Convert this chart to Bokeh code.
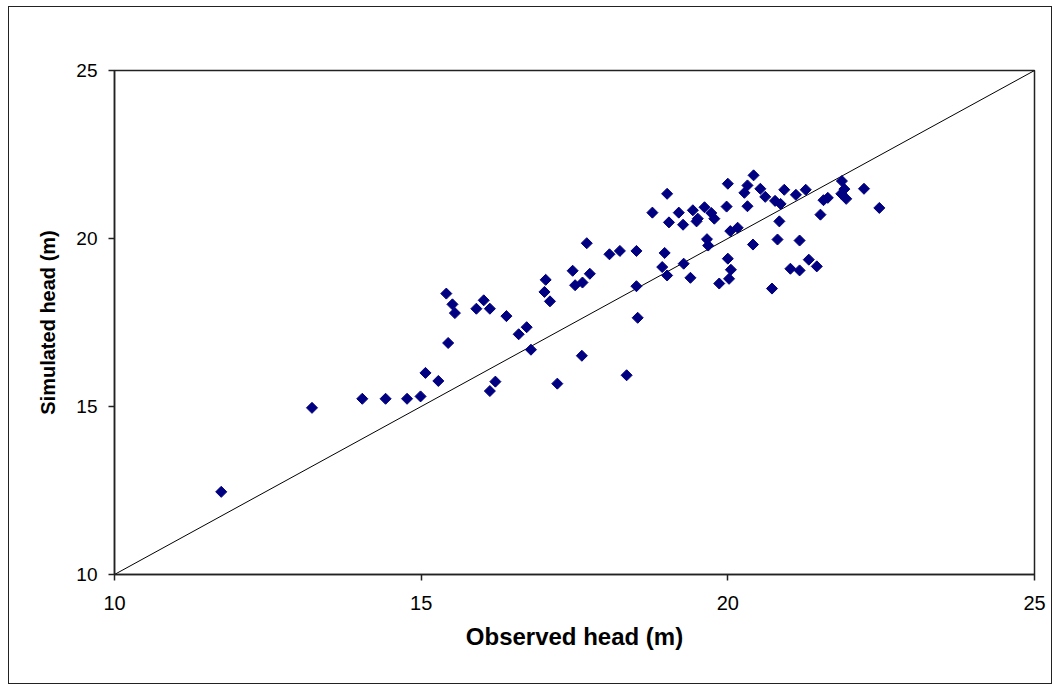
from bokeh.plotting import figure
from bokeh.models import Range1d, FixedTicker
from bokeh.embed import file_html
from bokeh.resources import INLINE

# Observed vs simulated heads (m)
observed = [11.74, 13.22, 14.04, 14.42, 14.77, 14.99, 15.07, 15.28, 15.44, 15.41,
            15.51, 15.55, 15.90, 16.02, 16.12, 16.39, 16.72, 16.59, 16.79, 16.21,
            16.12, 17.22, 17.62, 18.35, 17.03, 17.01, 17.10, 17.47, 17.75, 17.51,
            17.63, 17.70, 18.07, 18.24, 18.51, 18.51, 18.53, 18.97, 18.93, 19.01,
            19.28, 19.39, 19.04, 19.27, 19.49, 19.01, 18.77, 19.20, 19.43, 19.51,
            19.62, 19.73, 19.78, 19.98, 20.00, 20.32, 20.27, 20.42, 20.53, 20.61,
            20.32, 20.92, 20.77, 20.86, 21.11, 21.27, 20.84, 20.04, 20.16, 19.66,
            19.68, 20.41, 20.81, 21.17, 20.00, 20.05, 20.02, 19.86, 20.72, 21.02,
            21.17, 21.32, 21.45, 21.56, 21.63, 21.51, 21.86, 21.90, 21.85, 21.93,
            22.22, 22.47]
simulated = [12.46, 14.96, 15.23, 15.23, 15.23, 15.30, 16.00, 15.76, 16.89, 18.36,
             18.04, 17.78, 17.91, 18.16, 17.91, 17.69, 17.36, 17.15, 16.69, 15.74,
             15.46, 15.68, 16.51, 15.93, 18.77, 18.41, 18.13, 19.04, 18.95, 18.61,
             18.69, 19.86, 19.53, 19.63, 19.63, 18.58, 17.64, 19.57, 19.15, 18.90,
             19.25, 18.83, 20.48, 20.41, 20.51, 21.33, 20.77, 20.77, 20.84, 20.59,
             20.93, 20.76, 20.59, 20.95, 21.63, 21.58, 21.36, 21.88, 21.48, 21.24,
             20.96, 21.45, 21.12, 21.03, 21.30, 21.45, 20.51, 20.22, 20.32, 19.98,
             19.79, 19.82, 19.97, 19.94, 19.40, 19.07, 18.80, 18.66, 18.51, 19.10,
             19.05, 19.37, 19.17, 21.14, 21.21, 20.71, 21.71, 21.47, 21.33, 21.18,
             21.48, 20.91]

line_x = [10, 25]
line_y = [10, 25]
ticks = [10, 15, 20, 25]

p = figure(width=1042, height=676, output_backend="svg", toolbar_location=None,
           x_range=Range1d(10, 25), y_range=Range1d(10, 25),
           min_border_left=105, min_border_right=17, min_border_top=63, min_border_bottom=109)
p.styles = {"margin-left": "9px", "margin-top": "7px",
            "outline": "1.5px solid #222", "outline-offset": "0px"}
p.background_fill_color = "white"
p.border_fill_color = "white"
p.outline_line_color = "#222222"
p.outline_line_width = 1.5
p.xgrid.visible = False
p.ygrid.visible = False

p.line(line_x, line_y, line_color="black", line_width=1)
p.scatter(observed, simulated, marker="square", angle=0.7853981634, size=7.8,
          fill_color="#000080", line_color="#000080", line_width=1)

for ax in (p.xaxis[0], p.yaxis[0]):
    ax.ticker = FixedTicker(ticks=ticks)
    ax.minor_tick_line_color = None
    ax.major_tick_in = 0
    ax.major_tick_out = 6
    ax.axis_line_color = "#222222"
    ax.axis_line_width = 1.5
    ax.major_tick_line_color = "#222222"
    ax.major_tick_line_width = 1.5
    ax.major_label_text_font = "Liberation Sans"
    ax.major_label_text_color = "black"
    ax.axis_label_text_font = "Liberation Sans"
    ax.axis_label_text_font_style = "bold"
    ax.axis_label_text_color = "black"

p.xaxis.axis_label = "Observed head (m)"
p.yaxis.axis_label = "Simulated head (m)"
p.xaxis.major_label_text_font_size = "20px"
p.yaxis.major_label_text_font_size = "19px"
p.xaxis.axis_label_text_font_size = "24px"
p.yaxis.axis_label_text_font_size = "20px"
p.xaxis.major_label_standoff = 15
p.yaxis.major_label_standoff = 11
p.xaxis.axis_label_standoff = 10
p.yaxis.axis_label_standoff = 14

open("out.html", "w").write(file_html(p, INLINE))
